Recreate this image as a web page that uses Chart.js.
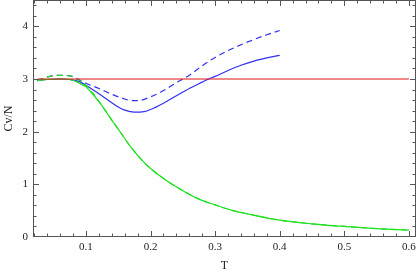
<!DOCTYPE html>
<html>
<head>
<meta charset="utf-8">
<script src="https://cdn.jsdelivr.net/npm/chart.js@4/dist/chart.umd.min.js"></script>
<style>
  html, body { margin: 0; padding: 0; background: #fff; }
  #wrap { width: 417px; height: 275px; }
</style>
</head>
<body>
<div id="wrap"><canvas id="cvChart"></canvas></div>
<script>
// tick labels
const xTicks = [0.1, 0.2, 0.3, 0.4, 0.5, 0.6];
const yTicks = [0, 1, 2, 3, 4];

// blue curves (solid and dashed)
const tBlue = [0.025, 0.04, 0.06, 0.075, 0.09, 0.1, 0.12, 0.14, 0.15, 0.16, 0.175, 0.19, 0.2, 0.22, 0.24, 0.26, 0.28, 0.29, 0.3, 0.32, 0.34, 0.36, 0.38, 0.4];
const cvBlueSolid = [2.97, 2.99, 3.0, 2.99, 2.95, 2.88, 2.72, 2.55, 2.47, 2.41, 2.37, 2.38, 2.42, 2.54, 2.68, 2.82, 2.94, 3.0, 3.05, 3.16, 3.26, 3.34, 3.40, 3.45];
const tBlueDash = [0.025, 0.04, 0.06, 0.075, 0.09, 0.1, 0.12, 0.14, 0.16, 0.17, 0.18, 0.2, 0.22, 0.24, 0.25, 0.26, 0.28, 0.3, 0.32, 0.34, 0.36, 0.38, 0.4];
const cvBlueDash = [2.97, 3.04, 3.07, 3.06, 2.98, 2.92, 2.82, 2.71, 2.62, 2.59, 2.59, 2.66, 2.78, 2.93, 3.0, 3.07, 3.25, 3.41, 3.54, 3.65, 3.75, 3.84, 3.92];

// green curves
const tGreen = [0.025, 0.04, 0.06, 0.075, 0.09, 0.1, 0.11, 0.12, 0.13, 0.14, 0.15, 0.16, 0.17, 0.18, 0.2, 0.225, 0.25, 0.275, 0.3, 0.325, 0.35, 0.4, 0.45, 0.5, 0.55, 0.6];
const cvGreenSolid = [2.97, 2.99, 3.0, 2.99, 2.92, 2.85, 2.72, 2.57, 2.40, 2.22, 2.05, 1.87, 1.70, 1.55, 1.30, 1.07, 0.88, 0.72, 0.61, 0.51, 0.44, 0.32, 0.25, 0.20, 0.16, 0.13];
const cvGreenDash = [2.97, 3.04, 3.07, 3.06, 2.97, 2.88, 2.74, 2.58, 2.40, 2.22, 2.05, 1.87, 1.70, 1.55, 1.30, 1.07, 0.88, 0.72, 0.61, 0.51, 0.44, 0.32, 0.25, 0.20, 0.16, 0.13];

// classical limit
const tRed = [0.025, 0.6];
const cvRed = [3, 3];

function pts(xs, ys) {
  return xs.map((x, i) => ({ x: x, y: ys[i] }));
}

const frameTicks = {
  id: "frameTicks",
  afterDraw(chart) {
    const ctx = chart.ctx;
    const a = chart.chartArea;
    const xs = chart.scales.x;
    const ys = chart.scales.y;
    ctx.save();
    ctx.strokeStyle = "#555";
    ctx.lineWidth = 1;
    ctx.strokeRect(a.left + 0.5, a.top + 0.5, a.right - a.left - 1, a.bottom - a.top - 1);
    ctx.beginPath();
    // x ticks, every 0.02, major every 0.1
    for (let k = 1; k <= 30; k++) {
      const v = k * 0.02;
      if (v < xs.min || v > xs.max) continue;
      const len = k % 5 === 0 ? 6 : 3.5;
      const px = Math.round(xs.getPixelForValue(v)) + 0.5;
      ctx.moveTo(px, a.bottom);
      ctx.lineTo(px, a.bottom - len);
      ctx.moveTo(px, a.top);
      ctx.lineTo(px, a.top + len);
    }
    // y ticks, every 0.2, major every 1
    for (let k = 1; k <= 22; k++) {
      const v = k * 0.2;
      if (v > ys.max) continue;
      const len = k % 5 === 0 ? 6 : 3.5;
      const py = Math.round(ys.getPixelForValue(v)) + 0.5;
      ctx.moveTo(a.left, py);
      ctx.lineTo(a.left + len, py);
      ctx.moveTo(a.right, py);
      ctx.lineTo(a.right - len, py);
    }
    ctx.stroke();
    ctx.restore();
  },
};

const serif = "'Liberation Serif', 'DejaVu Serif', serif";

new Chart(document.getElementById("cvChart").getContext("2d"), {
  type: "line",
  data: {
    datasets: [
      { data: pts(tRed, cvRed), borderColor: "#e01010", borderWidth: 1 },
      { data: pts(tGreen, cvGreenDash), borderColor: "#20e020", borderWidth: 1.2, borderDash: [6, 4] },
      { data: pts(tGreen, cvGreenSolid), borderColor: "#20e020", borderWidth: 1.2 },
      { data: pts(tBlueDash, cvBlueDash), borderColor: "#3030f0", borderWidth: 1.2, borderDash: [6, 4] },
      { data: pts(tBlue, cvBlueSolid), borderColor: "#3030f0", borderWidth: 1.2 },
    ],
  },
  options: {
    responsive: true,
    maintainAspectRatio: false,
    animation: false,
    layout: { padding: { top: 0, right: 1, left: 0, bottom: 0 } },
    elements: {
      point: { radius: 0 },
      line: { tension: 0.4, cubicInterpolationMode: "monotone", fill: false },
    },
    plugins: {
      legend: { display: false },
      tooltip: { enabled: false },
    },
    scales: {
      x: {
        type: "linear",
        min: 0.018,
        max: 0.611,
        afterBuildTicks(scale) {
          scale.ticks = xTicks.map((v) => ({ value: v }));
        },
        afterFit(scale) {
          scale.height = 38;
          scale.paddingLeft = 0;
          scale.paddingRight = 0;
        },
        grid: { display: false, drawTicks: false },
        border: { display: false },
        ticks: {
          padding: 4,
          color: "#222",
          font: { family: serif, size: 11 },
          callback: (v) => String(v),
        },
        title: {
          display: true,
          text: "T",
          color: "#222",
          font: { family: serif, size: 12 },
          padding: { top: 0, bottom: 2 },
        },
      },
      y: {
        min: 0,
        max: 4.5,
        afterBuildTicks(scale) {
          scale.ticks = yTicks.map((v) => ({ value: v }));
        },
        afterFit(scale) {
          scale.width = 33;
          scale.paddingTop = 0;
          scale.paddingBottom = 0;
        },
        grid: { display: false, drawTicks: false },
        border: { display: false },
        ticks: {
          padding: 5,
          color: "#222",
          font: { family: serif, size: 11 },
          callback: (v) => String(v),
        },
        title: {
          display: true,
          text: "Cv/N",
          color: "#222",
          font: { family: serif, size: 12 },
          padding: { top: 2, bottom: 0 },
        },
      },
    },
  },
  plugins: [frameTicks],
});
</script>
</body>
</html>
